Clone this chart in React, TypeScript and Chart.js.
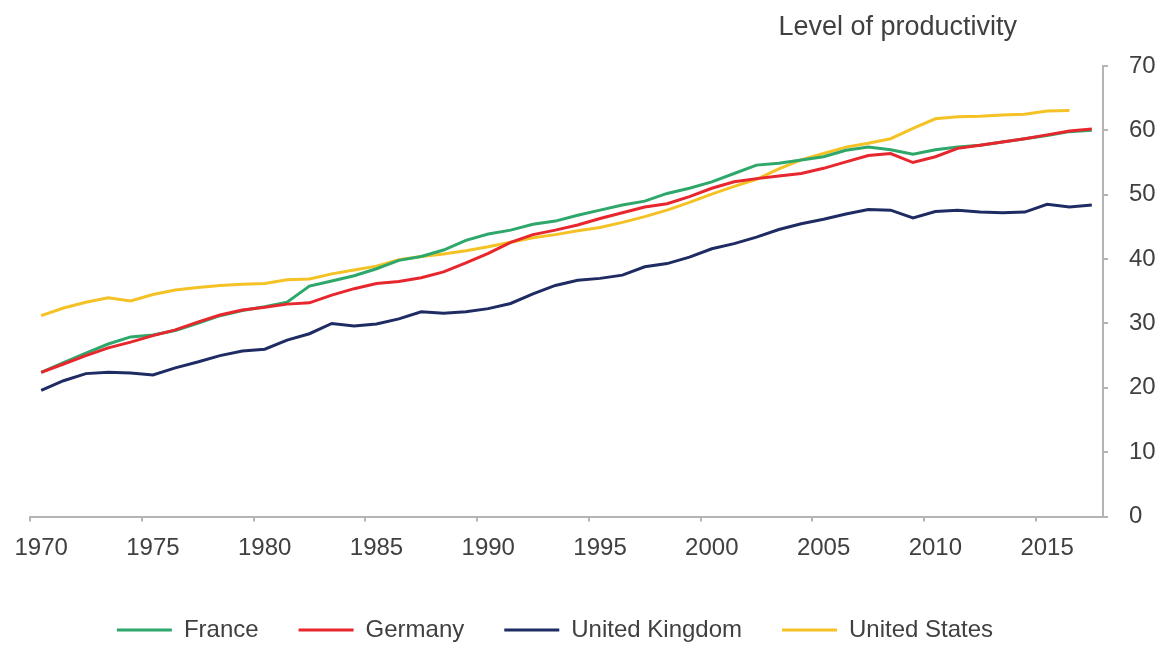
import React, { useEffect, useRef } from "react";
import { Chart, registerables } from "chart.js";

Chart.register(...registerables);

const years: string[] = [];
for (let y = 1970; y <= 2017; y++) years.push(String(y));

const france = [
  22.4, 23.9, 25.4, 26.8, 27.9, 28.2, 28.9, 30.0, 31.2, 32.0,
  32.6, 33.3, 35.8, 36.6, 37.4, 38.5, 39.8, 40.4, 41.4, 42.9,
  43.9, 44.5, 45.4, 45.9, 46.8, 47.6, 48.4, 49.0, 50.2, 51.0,
  52.0, 53.3, 54.6, 54.9, 55.4, 55.9, 56.9, 57.4, 57.0, 56.3,
  57.0, 57.4, 57.7, 58.2, 58.7, 59.2, 59.8, 60.0,
];
const germany = [
  22.4, 23.7, 25.0, 26.2, 27.1, 28.1, 29.0, 30.2, 31.3, 32.1,
  32.5, 33.0, 33.2, 34.4, 35.4, 36.2, 36.5, 37.1, 38.0, 39.4,
  40.9, 42.6, 43.8, 44.5, 45.3, 46.3, 47.2, 48.1, 48.6, 49.7,
  51.0, 52.0, 52.5, 52.9, 53.3, 54.1, 55.1, 56.1, 56.4, 55.0,
  55.9, 57.2, 57.7, 58.2, 58.7, 59.3, 59.9, 60.2,
];
const uk = [
  19.6, 21.1, 22.2, 22.4, 22.3, 22.0, 23.1, 24.0, 25.0, 25.7,
  26.0, 27.4, 28.4, 30.0, 29.6, 29.9, 30.7, 31.8, 31.6, 31.8,
  32.3, 33.1, 34.6, 35.9, 36.7, 37.0, 37.5, 38.8, 39.3, 40.3,
  41.6, 42.4, 43.4, 44.6, 45.5, 46.2, 47.0, 47.7, 47.6, 46.4,
  47.4, 47.6, 47.3, 47.2, 47.3, 48.5, 48.1, 48.4,
];
const us = [
  31.2, 32.4, 33.3, 34.0, 33.5, 34.5, 35.2, 35.6, 35.9, 36.1,
  36.2, 36.8, 36.9, 37.7, 38.3, 38.9, 39.9, 40.4, 40.8, 41.3,
  41.9, 42.6, 43.3, 43.8, 44.4, 44.9, 45.7, 46.6, 47.6, 48.8,
  50.1, 51.3, 52.4, 54.0, 55.4, 56.4, 57.4, 58.0, 58.7, 60.3,
  61.8, 62.1, 62.2, 62.4, 62.5, 63.0, 63.1,
];

const seriesNames = ["France", "Germany", "United Kingdom", "United States"];
const seriesColors = ["#2ea86a", "#e8262d", "#1f2c63", "#f4c224"];
const yTicks = [0, 10, 20, 30, 40, 50, 60, 70];
const yTitle = "Level of productivity";

const FONT = "'Liberation Sans', Arial, sans-serif";
const TEXT = "#404040";
const AXIS = "#b4b4b4";

export default function App() {
  const ref = useRef<HTMLCanvasElement | null>(null);
  useEffect(() => {
    if (!ref.current) return;
    const values = [france, germany, uk, us];
    const orders = [1, 0, 3, 2];
    const titlePlugin = {
      id: "axisTitle",
      afterDraw(chart: any) {
        const ctx = chart.ctx;
        ctx.save();
        ctx.font = `27px ${FONT}`;
        ctx.fillStyle = TEXT;
        ctx.textAlign = "right";
        ctx.textBaseline = "middle";
        ctx.fillText(yTitle, chart.chartArea.right - 86, 28);
        ctx.restore();
      },
    };
    const shiftLegend = {
      id: "shiftLegend",
      afterLayout(chart: any) {
        if (chart.legend) {
          chart.legend.left -= 38;
          chart.legend.right -= 38;
        }
      },
    };
    const chart = new Chart(ref.current, {
      type: "line",
      data: {
        labels: years,
        datasets: seriesNames.map((name, i) => ({
          label: name,
          data: values[i],
          borderColor: seriesColors[i],
          backgroundColor: seriesColors[i],
          borderWidth: 3,
          pointRadius: 0,
          tension: 0,
          fill: false,
          order: orders[i],
        })),
      },
      options: {
        animation: false,
        responsive: false,
        devicePixelRatio: 1,
        layout: { padding: { left: 30, right: 17, top: 66, bottom: 0 } },
        plugins: {
          tooltip: { enabled: false },
          title: { display: false },
          legend: {
            position: "bottom",
            labels: {
              usePointStyle: true,
              pointStyle: "line",
              pointStyleWidth: 55,
              padding: 40,
              color: TEXT,
              font: { family: FONT, size: 24 },
              sort: (a: any, b: any) => a.datasetIndex - b.datasetIndex,
            },
          },
        },
        scales: {
          x: {
            type: "category",
            offset: true,
            grid: {
              offset: true,
              drawOnChartArea: false,
              drawTicks: true,
              tickLength: 5,
              color: (ctx: any) => {
                const y = Number(years[ctx.index]);
                return !isNaN(y) && y % 5 === 0 ? AXIS : "rgba(0,0,0,0)";
              },
              lineWidth: 2,
            },
            border: { display: true, color: AXIS, width: 2 },
            ticks: {
              autoSkip: false,
              maxRotation: 0,
              minRotation: 0,
              padding: 12,
              color: TEXT,
              font: { family: FONT, size: 24 },
              callback: (_v: any, idx: number) => {
                const y = Number(years[idx]);
                return y % 5 === 0 ? years[idx] : "";
              },
            },
            afterFit: (scale: any) => {
              scale.height = 61.5;
            },
          },
          y: {
            type: "linear",
            position: "right",
            min: 0,
            max: 70,
            afterBuildTicks: (scale: any) => {
              scale.ticks = yTicks.map((v) => ({ value: v }));
            },
            grid: {
              drawOnChartArea: false,
              drawTicks: true,
              tickLength: 5,
              color: AXIS,
              lineWidth: 2,
            },
            border: { display: true, color: AXIS, width: 2 },
            ticks: {
              padding: 21,
              color: TEXT,
              font: { family: FONT, size: 24 },
            },
            afterFit: (scale: any) => {
              scale.width = 53;
            },
          },
        },
      },
      plugins: [titlePlugin, shiftLegend],
    });
    return () => chart.destroy();
  }, []);
  return (
    <div style={{ position: "fixed", left: 0, top: 0, width: 1173, height: 652, background: "#fff" }}>
      <canvas ref={ref} width={1173} height={652} />
    </div>
  );
}
